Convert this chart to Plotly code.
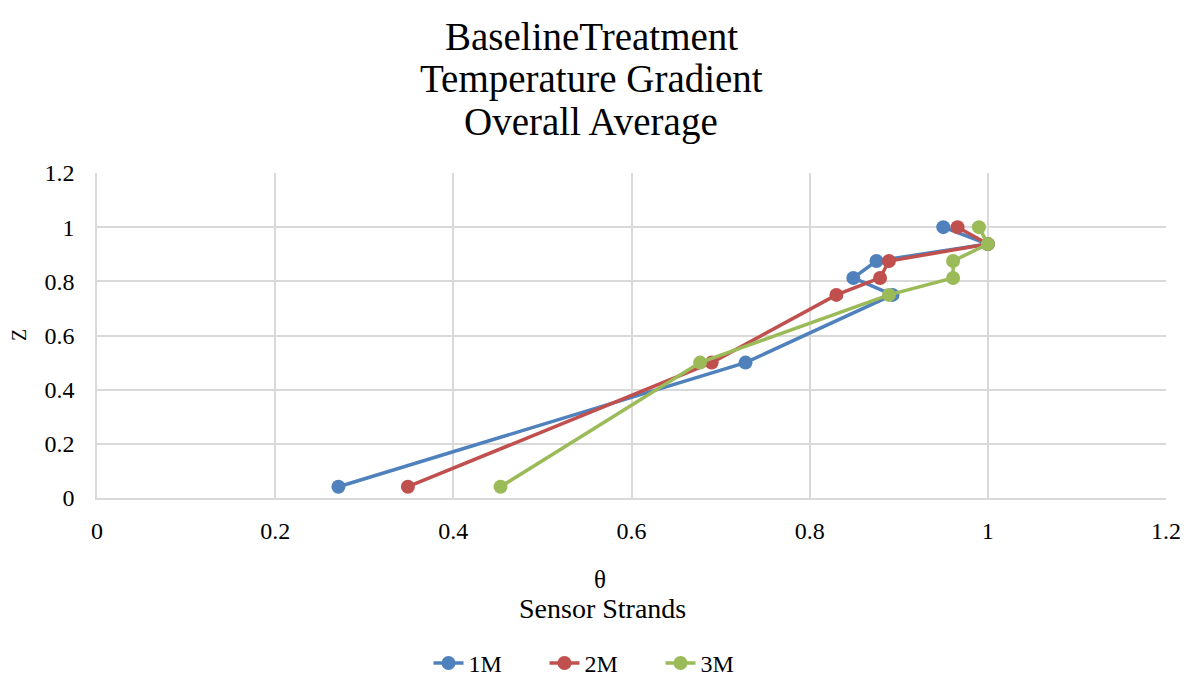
import plotly.graph_objects as go

z_levels = [1.0, 0.9375, 0.875, 0.8125, 0.75, 0.5, 0.0417]
theta_1m = [0.950, 1.0, 0.875, 0.849, 0.893, 0.728, 0.271]
theta_2m = [0.966, 1.0, 0.889, 0.879, 0.830, 0.690, 0.349]
theta_3m = [0.990, 1.0, 0.961, 0.961, 0.889, 0.677, 0.453]
series_names = ["1M", "2M", "3M"]
colors = ["#4F81BD", "#C0504D", "#9BBB59"]
x_ticks = [0, 0.2, 0.4, 0.6, 0.8, 1, 1.2]
y_ticks = [0, 0.2, 0.4, 0.6, 0.8, 1, 1.2]
title_lines = ["BaselineTreatment", "Temperature Gradient", "Overall Average"]

FONT = "Liberation Serif"

fig = go.Figure()
for name, xs, c in zip(series_names, [theta_1m, theta_2m, theta_3m], colors):
    fig.add_trace(go.Scatter(x=xs, y=z_levels, mode="lines+markers", name=name,
                             line=dict(color=c, width=3.5),
                             marker=dict(color=c, size=14)))

W, H = 1193, 698
L, R, T, B = 97, 19, 173, 195
pw = W - L - R
ph = H - T - B

def px(pix):
    return (pix - L) / pw

def py(pix):
    return (H - B - pix) / ph

fig.update_layout(
    width=W, height=H,
    margin=dict(l=L, r=R, t=T, b=B),
    paper_bgcolor="white", plot_bgcolor="white",
    font=dict(family=FONT, color="#000000", size=23),
    showlegend=True,
    legend=dict(orientation="h", x=px(431), xanchor="left", y=py(671), yanchor="middle",
                font=dict(size=24), traceorder="normal", entrywidth=71, entrywidthmode="pixels"),
    xaxis=dict(range=[0, 1.2], tickvals=x_ticks, ticktext=[f"{v:g}" for v in x_ticks],
               showgrid=True, gridcolor="#D9D9D9", gridwidth=1.5,
               showline=True, linecolor="#D9D9D9", linewidth=1.5,
               zeroline=False, ticks="", tickfont=dict(size=24), ticklabelstandoff=10),
    yaxis=dict(range=[0, 1.2], tickvals=y_ticks, ticktext=[f"{v:g}" for v in y_ticks],
               showgrid=True, gridcolor="#D9D9D9", gridwidth=1.5,
               showline=True, linecolor="#D9D9D9", linewidth=1.5,
               zeroline=False, ticks="", tickfont=dict(size=24), ticklabelstandoff=16),
)

for i, t in enumerate(title_lines):
    fig.add_annotation(text=t, x=px(595), xref="paper", y=py(34 + 43.5 * i), yref="paper",
                       showarrow=False, font=dict(size=39, family=FONT),
                       xanchor="center", yanchor="middle")

fig.add_annotation(text="Z", x=px(18), xref="paper", y=py(338), yref="paper",
                   showarrow=False, font=dict(size=20), textangle=-90,
                   xanchor="center", yanchor="middle")
fig.add_annotation(text="θ", x=px(604), xref="paper", y=py(586), yref="paper",
                   showarrow=False, font=dict(size=25), xanchor="center", yanchor="middle")
fig.add_annotation(text="Sensor Strands", x=px(606), xref="paper", y=py(615), yref="paper",
                   showarrow=False, font=dict(size=28), xanchor="center", yanchor="middle")

fig.write_html("out.html")
